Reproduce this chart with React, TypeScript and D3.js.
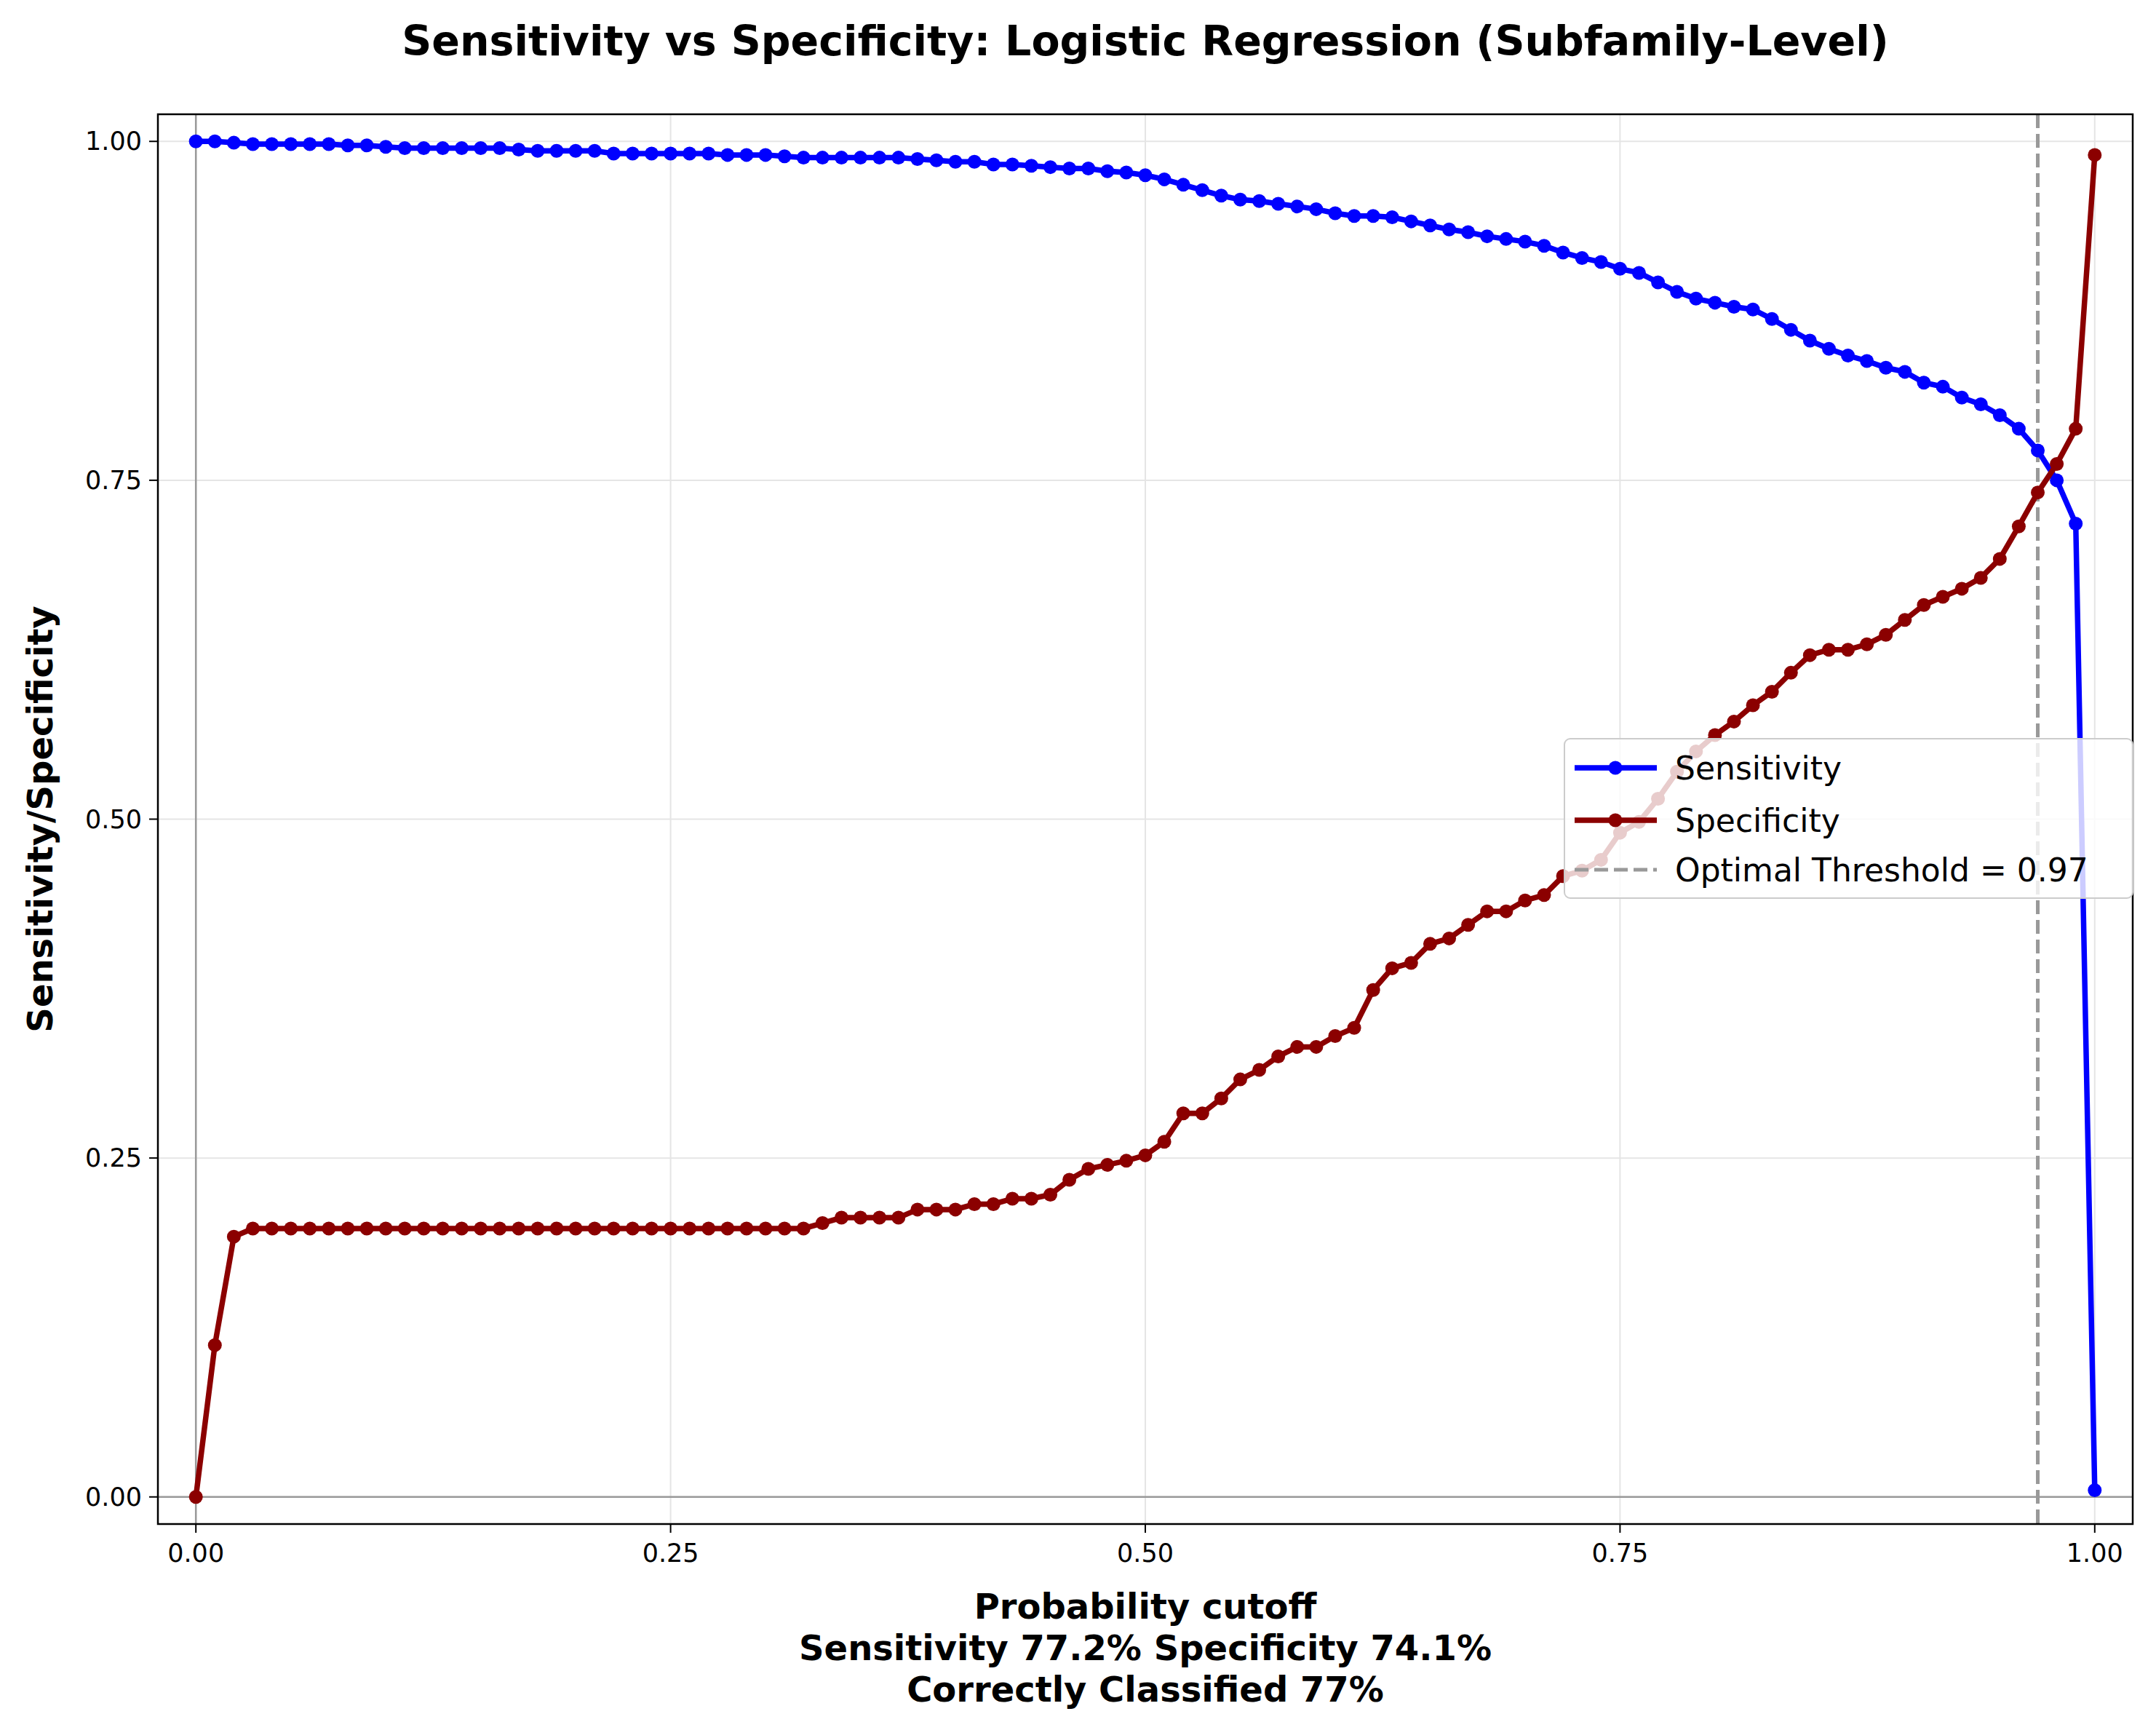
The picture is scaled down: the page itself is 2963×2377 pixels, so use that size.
import * as d3 from 'd3';

const cutoffs: number[] = Array.from({ length: 101 }, (_, i) => i / 100);

const sensitivity = [
  1.0, 1.0, 0.999, 0.998, 0.998, 0.998, 0.998, 0.998, 0.997, 0.997,
  0.996, 0.995, 0.995, 0.995, 0.995, 0.995, 0.995, 0.994, 0.993, 0.993,
  0.993, 0.993, 0.991, 0.991, 0.991, 0.991, 0.991, 0.991, 0.99, 0.99,
  0.99, 0.989, 0.988, 0.988, 0.988, 0.988, 0.988, 0.988, 0.987, 0.986,
  0.985, 0.985, 0.983, 0.983, 0.982, 0.981, 0.98, 0.98, 0.978, 0.977,
  0.975, 0.972, 0.968, 0.964, 0.96, 0.957, 0.956, 0.954, 0.952, 0.95,
  0.947, 0.945, 0.945, 0.944, 0.941, 0.938, 0.935, 0.933, 0.93, 0.928,
  0.926, 0.923, 0.918, 0.914, 0.911, 0.906, 0.903, 0.896, 0.889, 0.884,
  0.881, 0.878, 0.876, 0.869, 0.861, 0.853, 0.847, 0.842, 0.838, 0.833,
  0.83, 0.822, 0.819, 0.811, 0.806, 0.798, 0.788, 0.772, 0.75, 0.718,
  0.005,
];

const specificity = [
  0.0, 0.112, 0.192, 0.198, 0.198, 0.198, 0.198, 0.198, 0.198, 0.198,
  0.198, 0.198, 0.198, 0.198, 0.198, 0.198, 0.198, 0.198, 0.198, 0.198,
  0.198, 0.198, 0.198, 0.198, 0.198, 0.198, 0.198, 0.198, 0.198, 0.198,
  0.198, 0.198, 0.198, 0.202, 0.206, 0.206, 0.206, 0.206, 0.212, 0.212,
  0.212, 0.216, 0.216, 0.22, 0.22, 0.223, 0.234, 0.242, 0.245, 0.248,
  0.252, 0.262, 0.283, 0.283, 0.294, 0.308, 0.315, 0.325, 0.332, 0.332,
  0.34, 0.346, 0.374, 0.39, 0.394, 0.408, 0.412, 0.422, 0.432, 0.432,
  0.44, 0.444, 0.458, 0.462, 0.47, 0.49, 0.498, 0.515, 0.535, 0.55,
  0.562, 0.572, 0.584, 0.594, 0.608, 0.621, 0.625, 0.625, 0.629, 0.636,
  0.647, 0.658, 0.664, 0.67, 0.678, 0.692, 0.716, 0.741, 0.762, 0.788,
  0.99,
];

const ticks = [0, 0.25, 0.5, 0.75, 1.0];
const threshold = 0.97;

const W = 2963, H = 2377;
const L = 217, R = 2931, T = 157, B = 2094;
const font = 'DejaVu Sans, sans-serif';

export default function App() {
  const x = d3.scaleLinear().domain([-0.02, 1.02]).range([L, R]);
  const y = d3.scaleLinear().domain([-0.02, 1.02]).range([B, T]);
  const line = d3.line<number>().x((_, i) => x(cutoffs[i])).y(d => y(d));
  const series = [
    { name: 'Sensitivity', color: '#0000ff', values: sensitivity },
    { name: 'Specificity', color: '#8b0000', values: specificity },
  ];
  const lx = 2150, ly = 1015;
  return (
    <svg width={W} height={H} style={{ display: 'block', margin: -8 }} fontFamily={font}>
      <rect width={W} height={H} fill="#fff" />
      {ticks.map(t => (
        <g key={t}>
          <line x1={x(t)} x2={x(t)} y1={T} y2={B} stroke="#e5e5e5" strokeWidth={2} />
          <line x1={L} x2={R} y1={y(t)} y2={y(t)} stroke="#e5e5e5" strokeWidth={2} />
          <line x1={x(t)} x2={x(t)} y1={B} y2={B + 12} stroke="#000" strokeWidth={2} />
          <line x1={L} x2={L - 12} y1={y(t)} y2={y(t)} stroke="#000" strokeWidth={2} />
          <text x={x(t)} y={B + 52} fontSize={35} textAnchor="middle">{t.toFixed(2)}</text>
          <text x={L - 22} y={y(t) + 12} fontSize={35} textAnchor="end">{t.toFixed(2)}</text>
        </g>
      ))}
      <line x1={L} x2={R} y1={y(0)} y2={y(0)} stroke="#999" strokeWidth={2.5} />
      <line x1={x(0)} x2={x(0)} y1={T} y2={B} stroke="#999" strokeWidth={2.5} />
      <line x1={x(threshold)} x2={x(threshold)} y1={T} y2={B} stroke="#999" strokeWidth={5} strokeDasharray="19,8" />
      {series.map(s => (
        <g key={s.name}>
          <path d={line(s.values) ?? ''} fill="none" stroke={s.color} strokeWidth={7.5} />
          {s.values.map((v, i) => (
            <circle key={i} cx={x(cutoffs[i])} cy={y(v)} r={9.5} fill={s.color} />
          ))}
        </g>
      ))}
      <rect x={L} y={T} width={R - L} height={B - T} fill="none" stroke="#000" strokeWidth={2.5} />
      <g>
        <rect x={lx} y={ly} width={781} height={219} rx={8} fill="#fff" fillOpacity={0.8} stroke="#ccc" strokeWidth={2} />
        {series.map((s, i) => (
          <g key={s.name}>
            <line x1={lx + 14} x2={lx + 127} y1={ly + 40 + i * 72} y2={ly + 40 + i * 72} stroke={s.color} strokeWidth={7.5} />
            <circle cx={lx + 70} cy={ly + 40 + i * 72} r={9.5} fill={s.color} />
            <text x={lx + 152} y={ly + 56 + i * 72} fontSize={44}>{s.name}</text>
          </g>
        ))}
        <line x1={lx + 14} x2={lx + 127} y1={ly + 180} y2={ly + 180} stroke="#999" strokeWidth={5} strokeDasharray="19,8" />
        <text x={lx + 152} y={ly + 196} fontSize={44}>Optimal Threshold = {threshold.toFixed(2)}</text>
      </g>
      <text x={(L + R) / 2} y={76} fontSize={57} fontWeight="bold" textAnchor="middle">
        Sensitivity vs Specificity: Logistic Regression (Subfamily-Level)
      </text>
      <g fontSize={48} fontWeight="bold" textAnchor="middle">
        <text x={(L + R) / 2} y={2224}>Probability cutoff</text>
        <text x={(L + R) / 2} y={2281}>Sensitivity 77.2% Specificity 74.1%</text>
        <text x={(L + R) / 2} y={2338}>Correctly Classified 77%</text>
      </g>
      <text transform={`translate(72,${(T + B) / 2}) rotate(-90)`} fontSize={48} fontWeight="bold" textAnchor="middle">
        Sensitivity/Specificity
      </text>
    </svg>
  );
}
